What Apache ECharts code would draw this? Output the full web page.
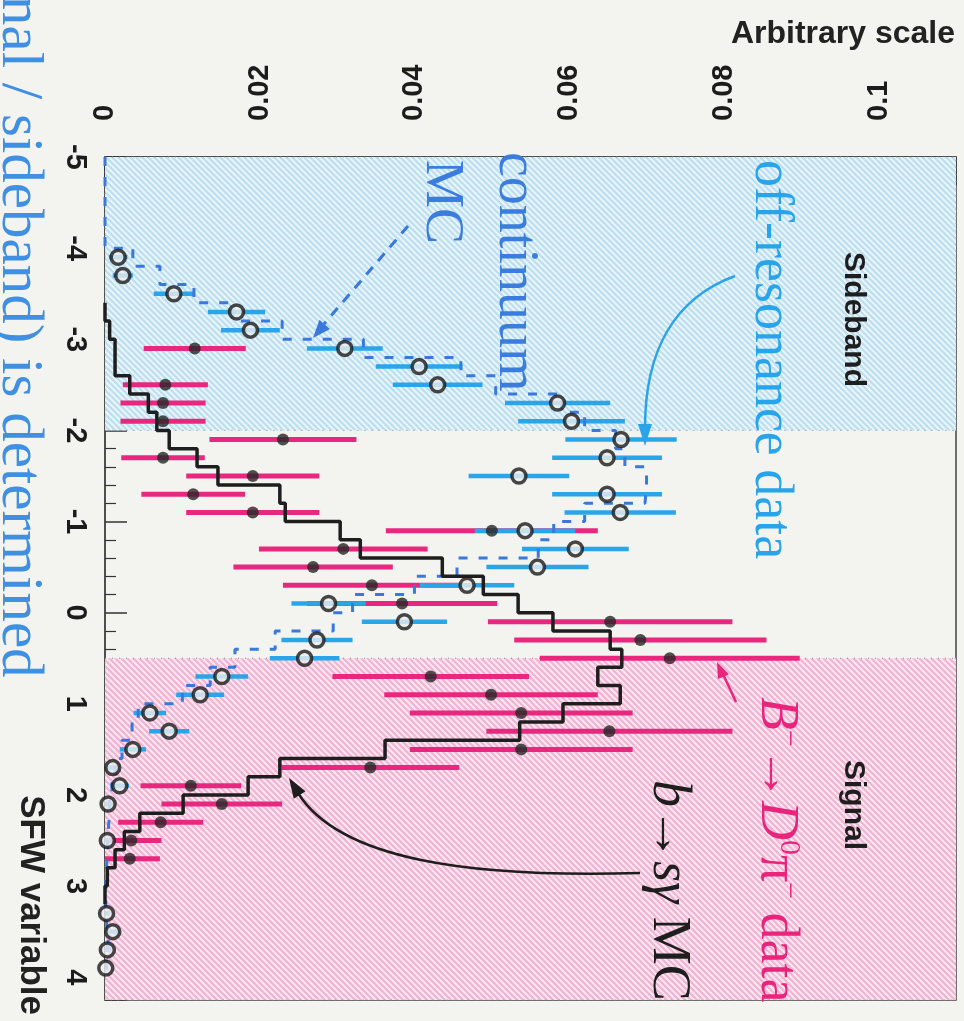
<!DOCTYPE html>
<html><head><meta charset="utf-8">
<script src="https://cdn.jsdelivr.net/npm/echarts@6/dist/echarts.min.js"></script>
<style>html,body{margin:0;padding:0;background:#f3f3ef}#c{width:964px;height:1021px}</style>
</head><body><div id="c"></div><script>
// ---------- data ----------
const valueTicks = [0, 0.02, 0.04, 0.06, 0.08, 0.1];
const sfwTicks = [-5, -4, -3, -2, -1, 0, 1, 2, 3, 4];
const binWidth = 0.2;
const sidebandRange = [-5, -2];
const signalRange = [0.5, 4.25];

// off-resonance data (open circles, blue error bars)
const offS   = [-3.9,-3.7,-3.5,-3.3,-3.1,-2.9,-2.7,-2.5,-2.3,-2.1,-1.9,-1.7,-1.5,-1.3,-1.1,-0.9,-0.7,-0.5,-0.3,-0.1,0.1,0.3,0.5,0.7,0.9,1.1,1.3,1.5,1.7,1.9,2.1,2.5,3.3,3.5,3.7,3.9];
const offVal = [0.0017,0.0023,0.0089,0.0170,0.0188,0.0310,0.0406,0.0430,0.0585,0.0603,0.0667,0.0649,0.0535,0.0649,0.0666,0.0543,0.0608,0.0559,0.0468,0.0289,0.0387,0.0274,0.0258,0.0151,0.0123,0.0058,0.0083,0.0036,0.0010,0.0019,0.0004,0.0003,0.0002,0.0010,0.0003,0.0001];
const offErr = [0.0012,0.0013,0.0026,0.0037,0.0038,0.0049,0.0056,0.0058,0.0068,0.0069,0.0072,0.0071,0.0065,0.0071,0.0072,0.0065,0.0069,0.0066,0.0061,0.0048,0.0055,0.0046,0.0045,0.0034,0.0031,0.0021,0.0026,0.0017,0.0009,0.0012,0.0006,0.0005,0.0004,0.0009,0.0005,0.0003];

// B- -> D0 pi- data (filled dots, magenta error bars)
const dpS   = [-2.9,-2.5,-2.3,-2.1,-1.9,-1.7,-1.5,-1.3,-1.1,-0.9,-0.7,-0.5,-0.3,-0.1,0.1,0.3,0.5,0.7,0.9,1.1,1.3,1.5,1.7,1.9,2.1,2.3,2.5,2.7];
const dpVal = [0.0116,0.0078,0.0075,0.0075,0.0230,0.0075,0.0191,0.0114,0.0191,0.0500,0.0308,0.0269,0.0345,0.0384,0.0653,0.0692,0.0730,0.0421,0.0499,0.0538,0.0652,0.0538,0.0343,0.0111,0.0151,0.0072,0.0034,0.0032];
const dpErr = [0.0066,0.0055,0.0055,0.0055,0.0095,0.0054,0.0086,0.0067,0.0086,0.0137,0.0109,0.0103,0.0115,0.0123,0.0158,0.0163,0.0168,0.0127,0.0138,0.0144,0.0159,0.0144,0.0115,0.0065,0.0078,0.0055,0.0039,0.0039];

// continuum MC (dashed blue histogram)
const mcS   = [-3.9,-3.7,-3.5,-3.3,-3.1,-2.9,-2.7,-2.5,-2.3,-2.1,-1.9,-1.7,-1.5,-1.3,-1.1,-0.9,-0.7,-0.5,-0.3,-0.1,0.1,0.3,0.5,0.7,0.9,1.1,1.3,1.5,1.7,1.9,2.1,2.3,2.5,2.7,2.9,3.1,3.3,3.5,3.7,3.9];
const mcVal = [0.0036,0.0071,0.0115,0.0165,0.0229,0.0334,0.0460,0.0505,0.0590,0.0620,0.0660,0.0672,0.0700,0.0698,0.0620,0.0580,0.0560,0.0455,0.0400,0.0320,0.0295,0.0220,0.0168,0.0136,0.0100,0.0043,0.0035,0.0022,0.0014,0.0009,0.0006,0.0004,0.0003,0.0002,0.0001,0.0001,0.0002,0.0004,0.0002,0.0001];

// b -> s gamma MC (solid black histogram)
const bsgS   = [-3.3,-3.1,-2.9,-2.7,-2.5,-2.3,-2.1,-1.9,-1.7,-1.5,-1.3,-1.1,-0.9,-0.7,-0.5,-0.3,-0.1,0.1,0.3,0.5,0.7,0.9,1.1,1.3,1.5,1.7,1.9,2.1,2.3,2.5,2.7,2.9,3.1];
const bsgVal = [0,0.0006,0.0013,0.0013,0.0032,0.0056,0.0067,0.0083,0.0119,0.0146,0.0226,0.0233,0.0304,0.0330,0.0436,0.0489,0.0534,0.0579,0.0653,0.0668,0.0637,0.0666,0.0592,0.0536,0.0362,0.0226,0.0185,0.0101,0.0045,0.0025,0.0013,0.0003,0];

// ---------- helpers ----------
function stepPoints(centers, vals, w, startAt) {
  const pts = [];
  if (startAt !== undefined) pts.push([0, startAt]);
  pts.push([0, centers[0] - w / 2]);
  centers.forEach((c, i) => { pts.push([vals[i], c - w / 2]); pts.push([vals[i], c + w / 2]); });
  pts.push([0, centers[centers.length - 1] + w / 2]);
  return pts;
}
function hatch(base, stripe) {
  const n = 6, c = document.createElement('canvas');
  c.width = c.height = n;
  const g = c.getContext('2d');
  g.fillStyle = base; g.fillRect(0, 0, n, n);
  g.strokeStyle = stripe; g.lineWidth = 2;
  g.beginPath();
  [-n, 0, n].forEach(k => { g.moveTo(k - 1, -1); g.lineTo(k + n + 1, n + 1); });
  g.stroke();
  return { image: c, repeat: 'repeat' };
}
function errBars(vals, centers, errs, color, width) {
  return {
    type: 'custom', z: 2, clip: true,
    encode: { x: 0, y: 1 },
    data: vals.map((v, i) => [v, centers[i], errs[i]]),
    renderItem: (p, api) => {
      const v = api.value(0), s = api.value(1), e = api.value(2);
      const a = api.coord([v - e, s]), b = api.coord([v + e, s]);
      return { type: 'line', shape: { x1: a[0], y1: a[1], x2: b[0], y2: b[1] },
               style: { stroke: color, lineWidth: width } };
    }
  };
}
function arrowHead(tip, dir, len, half, color) {
  const m = Math.hypot(dir[0], dir[1]), ux = dir[0] / m, uy = dir[1] / m;
  const bx = tip[0] - ux * len, by = tip[1] - uy * len;
  return { type: 'polygon', z: 100, shape: { points: [tip, [bx - uy * half, by + ux * half], [bx + uy * half, by - ux * half]] },
           style: { fill: color } };
}
const ROT = -Math.PI / 2;
const serif = '"Liberation Serif","DejaVu Serif",serif';
const sans = '"Liberation Sans",Arial,sans-serif';
function vtext(x, y, text, font, fill, align) {
  return { type: 'text', x: x, y: y, rotation: ROT, z: 100,
    style: { text: text, font: font, fill: fill, align: align || 'left', verticalAlign: 'middle' } };
}

// ---------- chart ----------
const chart = echarts.init(document.getElementById('c'), null, { renderer: 'canvas' });
const tickColor = '#333';
chart.setOption({
  animation: false,
  backgroundColor: '#f3f3ef',
  grid: { left: 105, right: 8, top: 157, bottom: 21, show: true, borderColor: '#444', borderWidth: 1.5, backgroundColor: 'transparent' },
  xAxis: {
    type: 'value', position: 'top', min: 0, max: 0.11, interval: 0.02,
    axisLine: { show: true, onZero: false, lineStyle: { color: '#444', width: 1.5 } },
    axisTick: { show: true, inside: true, length: 28, lineStyle: { color: tickColor, width: 1.5 } },
    minorTick: { show: true, splitNumber: 4, length: 13, lineStyle: { color: tickColor, width: 1.2 } },
    splitLine: { show: false },
    axisLabel: { rotate: -90, margin: 36, showMaxLabel: false, color: '#1c1c1c', fontFamily: sans, fontWeight: 'bold', fontSize: 29,
      formatter: v => { const t = valueTicks.find(t => Math.abs(t - v) < 1e-9); return t === undefined ? '' : String(t); } }
  },
  yAxis: {
    type: 'value', inverse: true, min: -5, max: 4.25, interval: 1,
    axisLine: { show: true, onZero: false, lineStyle: { color: '#444', width: 1.5 } },
    axisTick: { show: true, inside: true, length: 22, lineStyle: { color: tickColor, width: 1.5 } },
    minorTick: { show: true, splitNumber: 5, length: 11, lineStyle: { color: tickColor, width: 1.2 } },
    splitLine: { show: false },
    axisLabel: { rotate: -90, margin: 16, showMaxLabel: false, color: '#1c1c1c', fontFamily: sans, fontWeight: 'bold', fontSize: 29,
      formatter: v => { const t = sfwTicks.find(t => Math.abs(t - v) < 1e-9); return t === undefined ? '' : String(t); } }
  },
  series: [
    { type: 'line', data: [], z: 0, silent: true,
      markArea: { silent: true, label: { show: false },
        data: [
          [{ yAxis: sidebandRange[0], itemStyle: { color: hatch('#bcdff0', '#e9f5fa'), borderColor: '#8a8a8a', borderWidth: 1, borderType: [1, 6] } }, { yAxis: sidebandRange[1] }],
          [{ yAxis: signalRange[0], itemStyle: { color: hatch('#f0b4d3', '#fbe7f1'), borderColor: '#8a8a8a', borderWidth: 1, borderType: [1, 6] } }, { yAxis: signalRange[1] }]
        ] } },
    errBars(dpVal, dpS, dpErr, '#e8287f', 5),
    errBars(offVal, offS, offErr, '#2ba5ea', 4.5),
    { type: 'line', z: 3, symbol: 'none', silent: true, data: stepPoints(mcS, mcVal, binWidth, -5),
      lineStyle: { color: '#3a78dc', width: 3, type: [9, 11] } },
    { type: 'line', z: 4, symbol: 'none', silent: true, data: stepPoints(bsgS, bsgVal, binWidth),
      lineStyle: { color: '#1e1e1e', width: 3.5 } },
    { type: 'scatter', z: 5, symbol: 'circle', symbolSize: 12, silent: true,
      data: dpVal.map((v, i) => [v, dpS[i]]), itemStyle: { color: '#262626' } },
    { type: 'scatter', z: 6, symbol: 'circle', symbolSize: 14, silent: true,
      data: offVal.map((v, i) => [v, offS[i]]), itemStyle: { color: '#eeeeee', borderColor: '#1a1a1a', borderWidth: 3.5 } }
  ],
  graphic: [
    { type: 'text', x: 955, y: 34, z: 100, style: { text: 'Arbitrary scale', font: 'bold 32px ' + sans, fill: '#222', align: 'right', verticalAlign: 'middle' } },
    vtext(31, 1015, 'SFW variable', 'bold 35px ' + sans, '#222', 'right'),
    vtext(18, -4, 'nal / sideband) is determined', '59px ' + serif, '#3f8fe2'),
    vtext(853, 252, 'Sideband', 'bold 30px ' + sans, '#1e1e1e'),
    vtext(853, 760, 'Signal', 'bold 30px ' + sans, '#1e1e1e'),
    vtext(770, 160, 'off-resonance data', '54px ' + serif, '#28a4ea'),
    vtext(515, 152, 'continuum', '56px ' + serif, '#3a7ddc'),
    vtext(441, 160, 'MC', '54px ' + serif, '#3a7ddc'),
    { type: 'text', x: 776, y: 697, rotation: ROT, z: 100,
      style: { text: '{i|B}{s|−}{n|→}{i|D}{s|0}{n|π}{s|−}{n| data}', align: 'left', verticalAlign: 'middle',
        rich: { i: { fontFamily: serif, fontStyle: 'italic', fontSize: 54, fill: '#e8247c', lineHeight: 56 },
                n: { fontFamily: serif, fontSize: 54, fill: '#e8247c', lineHeight: 56 },
                s: { fontFamily: serif, fontSize: 30, fill: '#e8247c', verticalAlign: 'top', lineHeight: 56 } } } },
    { type: 'text', x: 668, y: 780, rotation: ROT, z: 100,
      style: { text: '{i|b}{n|→}{i|sγ}{n| MC}', align: 'left', verticalAlign: 'middle',
        rich: { i: { fontFamily: serif, fontStyle: 'italic', fontSize: 54, fill: '#1e1e1e' },
                n: { fontFamily: serif, fontSize: 54, fill: '#1e1e1e' } } } },
    // arrows
    { type: 'bezierCurve', z: 100, shape: { x1: 735, y1: 276, cpx1: 675, cpy1: 298, cpx2: 645, cpy2: 350, x2: 645, y2: 428 },
      style: { stroke: '#2aa3e8', lineWidth: 2.5, fill: null } },
    arrowHead([645, 446], [0, 1], 22, 7, '#2aa3e8'),
    { type: 'line', z: 100, shape: { x1: 408, y1: 226, x2: 324, y2: 324 }, style: { stroke: '#3a78dc', lineWidth: 3, lineDash: [10, 8] } },
    arrowHead([313, 338], [-86, 100], 18, 7, '#3a78dc'),
    { type: 'line', z: 100, shape: { x1: 736, y1: 702, x2: 723, y2: 674 }, style: { stroke: '#e8247c', lineWidth: 2.5 } },
    arrowHead([717, 662], [-14, -32], 16, 6, '#e8247c'),
    { type: 'bezierCurve', z: 100, shape: { x1: 640, y1: 873, cpx1: 470, cpy1: 878, cpx2: 340, cpy2: 860, x2: 298, y2: 793 },
      style: { stroke: '#1e1e1e', lineWidth: 2.5, fill: null } },
    arrowHead([289, 778], [-44, -70], 20, 7, '#1e1e1e')
  ]
});
</script></body></html>
